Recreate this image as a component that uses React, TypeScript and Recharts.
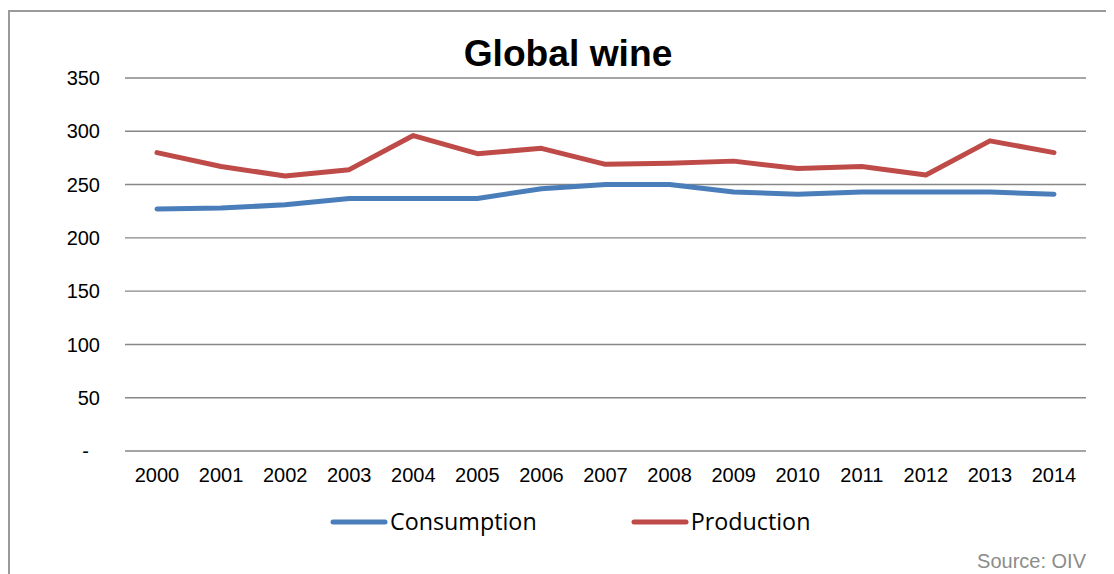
import { LineChart, Line, XAxis, YAxis, CartesianGrid, Legend } from 'recharts'

// million hl, per year
const years = ['2000', '2001', '2002', '2003', '2004', '2005', '2006', '2007', '2008', '2009', '2010', '2011', '2012', '2013', '2014']
const consumption = [227, 228, 231, 237, 237, 237, 246, 250, 250, 243, 241, 243, 243, 243, 241]
const production = [280, 267, 258, 264, 296, 279, 284, 269, 270, 272, 265, 267, 259, 291, 280]
const yTicks = [0, 50, 100, 150, 200, 250, 300, 350]

const chartData = years.map((year, i) => ({
    year,
    consumption: consumption[i],
    production: production[i],
}))

const axisFont = { fontFamily: 'Liberation Sans, Arial, sans-serif', fontSize: 20, fill: '#000' }

// accounting style: zero shows as a dash with some trailing space
const formatY = (v: number) => (v === 0 ? '-\u00a0\u00a0' : String(v))

const renderLegend = (props: any) => {
    const items = props.payload || []
    return (
        <div style={{ display: 'flex', alignItems: 'center' }}>
            {items.map((item: any, i: number) => (
                <div key={item.value} style={{ display: 'flex', alignItems: 'center', marginLeft: i === 0 ? 0 : 94 }}>
                    <svg width={58} height={8} style={{ display: 'block' }}>
                        <line x1={3} y1={4} x2={55} y2={4} stroke={item.color} strokeWidth={5} strokeLinecap="round" />
                    </svg>
                    <span style={{ fontFamily: 'Open Sans, sans-serif', fontSize: 23.3, color: '#000', marginLeft: 2, lineHeight: 1 }}>
                        {item.value}
                    </span>
                </div>
            ))}
        </div>
    )
}

const App = () => {
    return (
        <div style={{ position: 'relative', width: 1106, height: 566, overflow: 'hidden' }}>
            {/* frame, right and bottom edges run off the page */}
            <div style={{ position: 'absolute', left: 0, top: 2, width: 1200, height: 700, border: '2px solid #9a9a9a' }} />
            <div
                style={{
                    position: 'absolute', left: 0, width: 1120, top: 27, textAlign: 'center',
                    fontFamily: 'Liberation Sans, Arial, sans-serif', fontWeight: 'bold', fontSize: 37.2, lineHeight: 1,
                }}
            >
                Global wine
            </div>
            <LineChart
                width={1106}
                height={566}
                data={chartData}
                margin={{ top: 70, right: 28, left: 0, bottom: 83 }}
                style={{ position: 'absolute', left: 0, top: 0 }}
            >
                <CartesianGrid vertical={false} stroke="#878787" strokeWidth={1.4} />
                <XAxis
                    dataKey="year"
                    padding={{ left: 32, right: 32 }}
                    axisLine={false}
                    tickLine={false}
                    tickSize={0}
                    tickMargin={17}
                    height={40}
                    interval={0}
                    tick={axisFont}
                />
                <YAxis
                    domain={[0, 350]}
                    ticks={yTicks}
                    width={117}
                    axisLine={false}
                    tickLine={false}
                    tickSize={0}
                    tickMargin={25}
                    tick={axisFont}
                    tickFormatter={formatY}
                />
                <Legend
                    verticalAlign="middle"
                    align="center"
                    content={renderLegend}
                    wrapperStyle={{ top: 502, left: 322, width: 600, height: 30 }}
                />
                <Line
                    dataKey="consumption"
                    name="Consumption"
                    stroke="#4a7ebb"
                    strokeWidth={5}
                    strokeLinecap="round"
                    strokeLinejoin="round"
                    dot={false}
                    activeDot={false}
                    isAnimationActive={false}
                />
                <Line
                    dataKey="production"
                    name="Production"
                    stroke="#be4b48"
                    strokeWidth={5}
                    strokeLinecap="round"
                    strokeLinejoin="round"
                    dot={false}
                    activeDot={false}
                    isAnimationActive={false}
                />
            </LineChart>
            <div
                style={{
                    position: 'absolute', right: 28, top: 543,
                    fontFamily: 'Liberation Sans, Arial, sans-serif', fontSize: 20, lineHeight: 1, color: '#8c8c8c',
                }}
            >
                Source: OIV
            </div>
        </div>
    )
}

export default App
